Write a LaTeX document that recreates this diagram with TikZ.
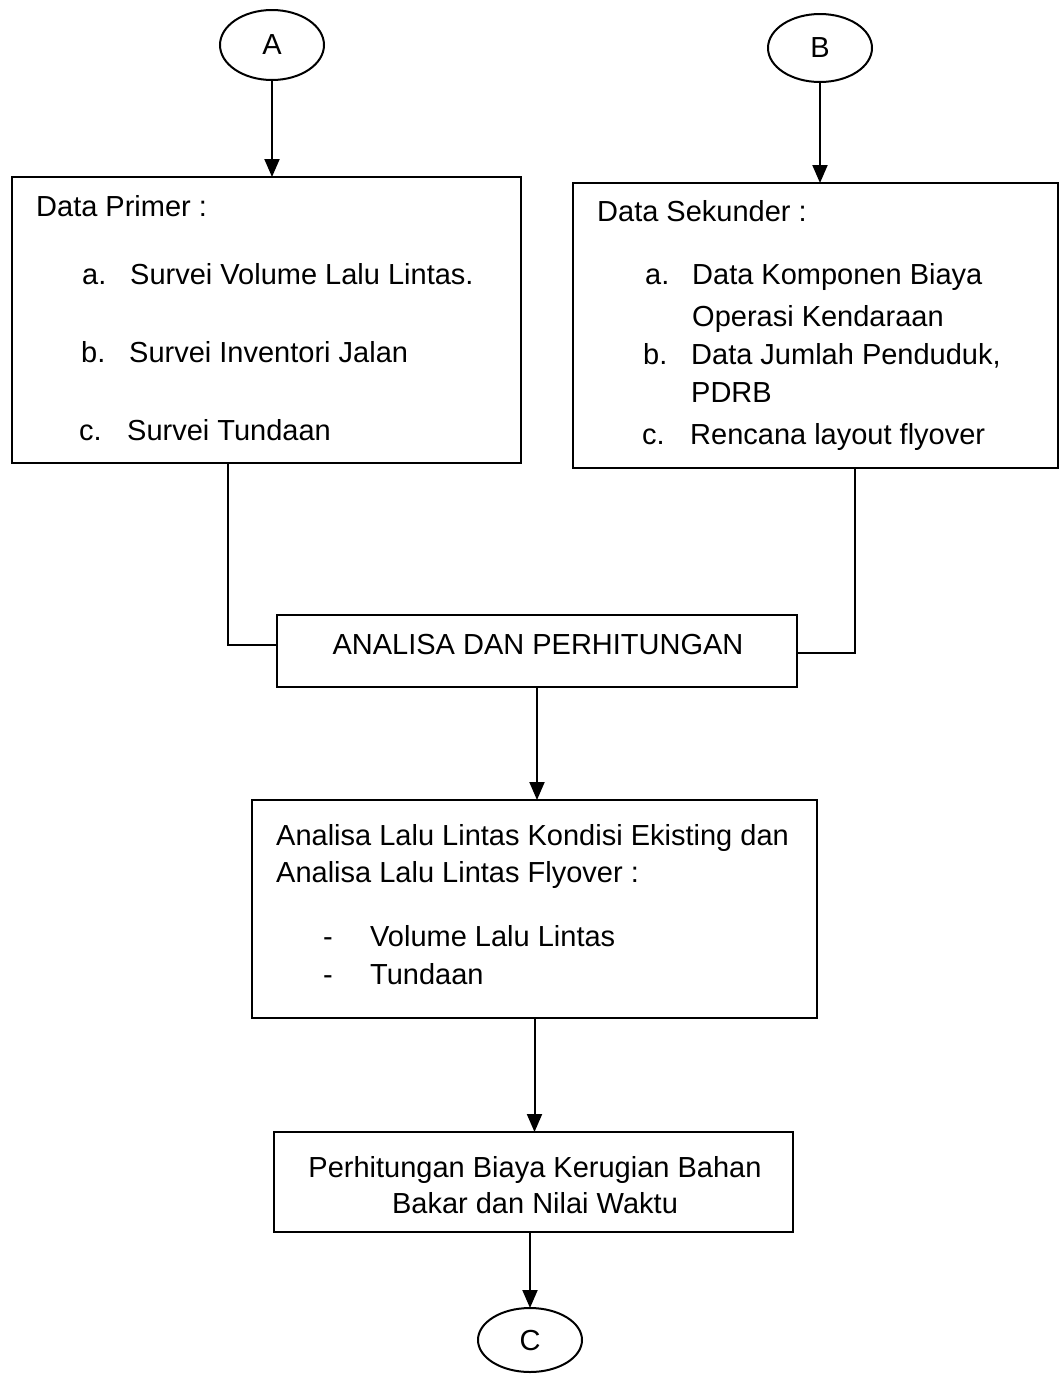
\documentclass[tikz,border=0pt]{standalone}
\usepackage{fontspec}
\setmainfont{Liberation Sans}
\usetikzlibrary{shapes.geometric,arrows.meta}
\tikzset{
  box/.style={draw, line width=2.2pt, rectangle, inner sep=0pt, outer sep=0pt},
  ell/.style={draw, line width=2pt, ellipse, inner sep=0pt, outer sep=0pt, font=\fontsize{29}{34}\selectfont},
  txt/.style={anchor=base west, inner sep=0pt, font=\fontsize{29}{34}\selectfont},
  ctxt/.style={anchor=base, inner sep=0pt, font=\fontsize{29}{34}\selectfont},
  arr/.style={line width=2pt, -{Triangle[length=18pt,width=15pt]}},
  conn/.style={line width=2pt}
}
\begin{document}
\begin{tikzpicture}[x=1pt,y=-1pt]
\useasboundingbox (0,0) rectangle (1061,1374);
\fill[white] (0,0) rectangle (1061,1374);

% terminals
\node[ell, minimum width=104pt, minimum height=70pt] (A) at (272,45) {A};
\node[ell, minimum width=104pt, minimum height=68pt] (B) at (820,48) {B};
\node[ell, minimum width=104pt, minimum height=64pt] (C) at (530,1340) {C};

% boxes
\node[box, minimum width=509pt, minimum height=286pt] (box1) at (266.5,320) {};
\node[box, minimum width=485pt, minimum height=285pt] (box2) at (815.5,325.5) {};
\node[box, minimum width=520pt, minimum height=72pt] (box3) at (537,651) {};
\node[box, minimum width=565pt, minimum height=218pt] (box4) at (534.5,909) {};
\node[box, minimum width=519pt, minimum height=100pt] (box5) at (533.5,1182) {};

% box1 text
\node[txt] (t1) at (36,216) {Data Primer :};
\node[txt] (t1a) at (82,284) {a.};
\node[txt] (t1at) at (130,284) {Survei Volume Lalu Lintas.};
\node[txt] (t1b) at (81,362) {b.};
\node[txt] (t1bt) at (129,362) {Survei Inventori Jalan};
\node[txt] (t1c) at (79,440) {c.};
\node[txt] (t1ct) at (127,440) {Survei Tundaan};

% box2 text
\node[txt] (t2) at (597,221) {Data Sekunder :};
\node[txt] (t2a) at (645,284) {a.};
\node[txt] (t2at) at (692,284) {Data Komponen Biaya};
\node[txt] (t2at2) at (692,326) {Operasi Kendaraan};
\node[txt] (t2b) at (643,364) {b.};
\node[txt] (t2bt) at (691,364) {Data Jumlah Penduduk,};
\node[txt] (t2bt2) at (691,402) {PDRB};
\node[txt] (t2c) at (642,444) {c.};
\node[txt] (t2ct) at (690,444) {Rencana layout flyover};

% box3 text
\node[ctxt] (t3) at (538,654) {ANALISA DAN PERHITUNGAN};

% box4 text
\node[txt] (t4a) at (276,845) {Analisa Lalu Lintas Kondisi Ekisting dan};
\node[txt] (t4b) at (276,882) {Analisa Lalu Lintas Flyover :};
\node[txt] (t4c) at (323,946) {-};
\node[txt] (t4ct) at (370,946) {Volume Lalu Lintas};
\node[txt] (t4d) at (323,984) {-};
\node[txt] (t4dt) at (370,984) {Tundaan};

% box5 text
\node[ctxt] (t5a) at (535,1177) {Perhitungan Biaya Kerugian Bahan};
\node[ctxt] (t5b) at (535,1213) {Bakar dan Nilai Waktu};

% connectors
\coordinate (j1) at (228,645);
\coordinate (j2) at (855,653);
\draw[arr] (A.south) -- (A.south |- box1.north);
\draw[arr] (B.south) -- (B.south |- box2.north);
\draw[conn] (j1 |- box1.south) -- (j1) -- (j1 -| box3.west);
\draw[conn] (j2 |- box2.south) -- (j2) -- (j2 -| box3.east);
\draw[arr] (box3.south) -- (box3.south |- box4.north);
\draw[arr] (box4.south) -- (box4.south |- box5.north);
\draw[arr] (C.north |- box5.south) -- (C.north);
\end{tikzpicture}
\end{document}
